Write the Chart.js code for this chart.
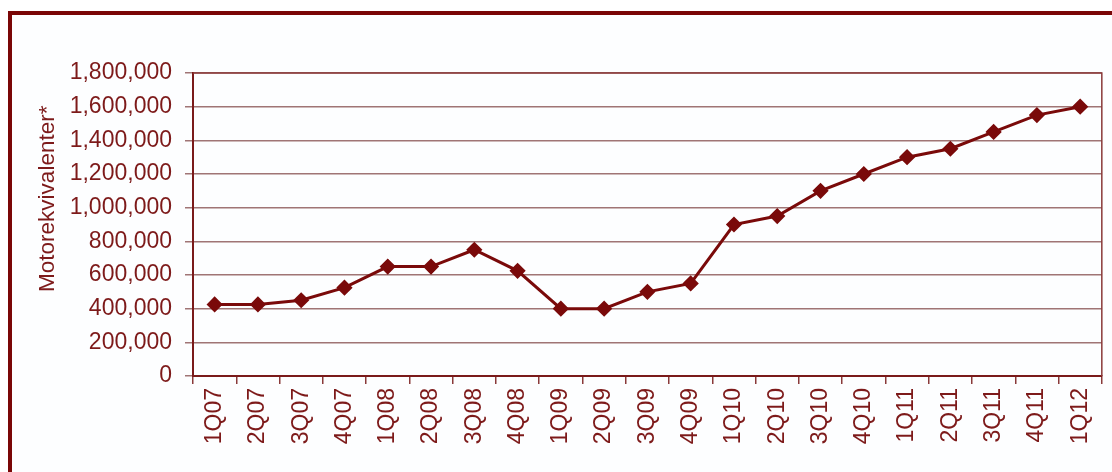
<!DOCTYPE html>
<html>
<head>
<meta charset="utf-8">
<script src="https://cdn.jsdelivr.net/npm/chart.js@4"></script>
<style>
  html, body { margin: 0; padding: 0; background: #fff; overflow: hidden; }
  #frame {
    position: absolute; left: 8px; top: 11px;
    width: 1200px; height: 600px;
    border: 4px solid #7a0606;
    background: #fdfeff;
  }
  #wrap { position: absolute; left: 0; top: 0; width: 1112px; height: 472px; }
</style>
</head>
<body>
<div id="frame"></div>
<div id="wrap"><canvas id="motorChart"></canvas></div>
<script>
// kvartaler
const quarters = ['1Q07','2Q07','3Q07','4Q07','1Q08','2Q08','3Q08','4Q08','1Q09','2Q09','3Q09',
  '4Q09','1Q10','2Q10','3Q10','4Q10','1Q11','2Q11','3Q11','4Q11','1Q12'];
const motorValues = [425000, 425000, 450000, 525000, 650000, 650000, 750000, 625000, 400000, 400000,
  500000, 550000, 900000, 950000, 1100000, 1200000, 1300000, 1350000, 1450000, 1550000, 1600000];
const yTitle = 'Motorekvivalenter*';

const darkRed = '#7a0a0a';
const textRed = '#7d1a1a';

// rammen rundt plotområdet + y-akse tittel
const plotFrame = {
  id: 'plotFrame',
  afterDraw(chart) {
    const a = chart.chartArea;
    const ctx = chart.ctx;
    ctx.save();
    ctx.strokeStyle = '#8a3a3a';
    ctx.lineWidth = 1.5;
    ctx.beginPath();
    ctx.moveTo(a.left, a.top);
    ctx.lineTo(a.right, a.top);
    ctx.lineTo(a.right, a.bottom);
    ctx.stroke();
    // title
    ctx.translate(48, a.top + (a.bottom - a.top) * 0.415);
    ctx.rotate(-Math.PI / 2);
    ctx.fillStyle = textRed;
    ctx.font = '22.5px "Liberation Sans", Arial, sans-serif';
    ctx.textAlign = 'center';
    ctx.textBaseline = 'middle';
    ctx.fillText(yTitle, 0, 0);
    ctx.restore();
  }
};

new Chart(document.getElementById('motorChart').getContext('2d'), {
  type: 'line',
  data: {
    labels: quarters,
    datasets: [{
      label: yTitle,
      data: motorValues,
      borderColor: darkRed,
      backgroundColor: darkRed,
      borderWidth: 3,
      pointStyle: 'rectRot',
      pointRadius: 6,
      pointBackgroundColor: darkRed,
      pointBorderColor: darkRed,
      tension: 0,
      fill: false
    }]
  },
  options: {
    responsive: true,
    maintainAspectRatio: false,
    animation: false,
    layout: { padding: { left: 30, top: 73, right: 6, bottom: 0 } },
    plugins: { legend: { display: false }, tooltip: { enabled: false } },
    scales: {
      x: {
        offset: true,
        grid: {
          offset: true,
          drawOnChartArea: false,
          drawTicks: true,
          tickLength: 8,
          color: '#8a3a3a',
          lineWidth: 1.5
        },
        border: { color: '#7a1a1a', width: 2 },
        ticks: {
          color: textRed,
          font: { family: '"Liberation Sans", Arial, sans-serif', size: 23 },
          minRotation: 90,
          maxRotation: 90,
          padding: 4,
          autoSkip: false
        },
        afterFit(axis) { axis.height = 96; }
      },
      y: {
        min: 0,
        max: 1800000,
        grid: {
          color: '#a07575',
          lineWidth: 1.5,
          tickLength: 8
        },
        border: { color: '#7a1a1a', width: 2 },
        ticks: {
          stepSize: 200000,
          color: textRed,
          padding: 13,
          font: { family: '"Liberation Sans", Arial, sans-serif', size: 23 },
          callback: v => v.toLocaleString('en-US')
        },
        afterFit(axis) { axis.width = 163; }
      }
    }
  },
  plugins: [plotFrame]
});
</script>
</body>
</html>
